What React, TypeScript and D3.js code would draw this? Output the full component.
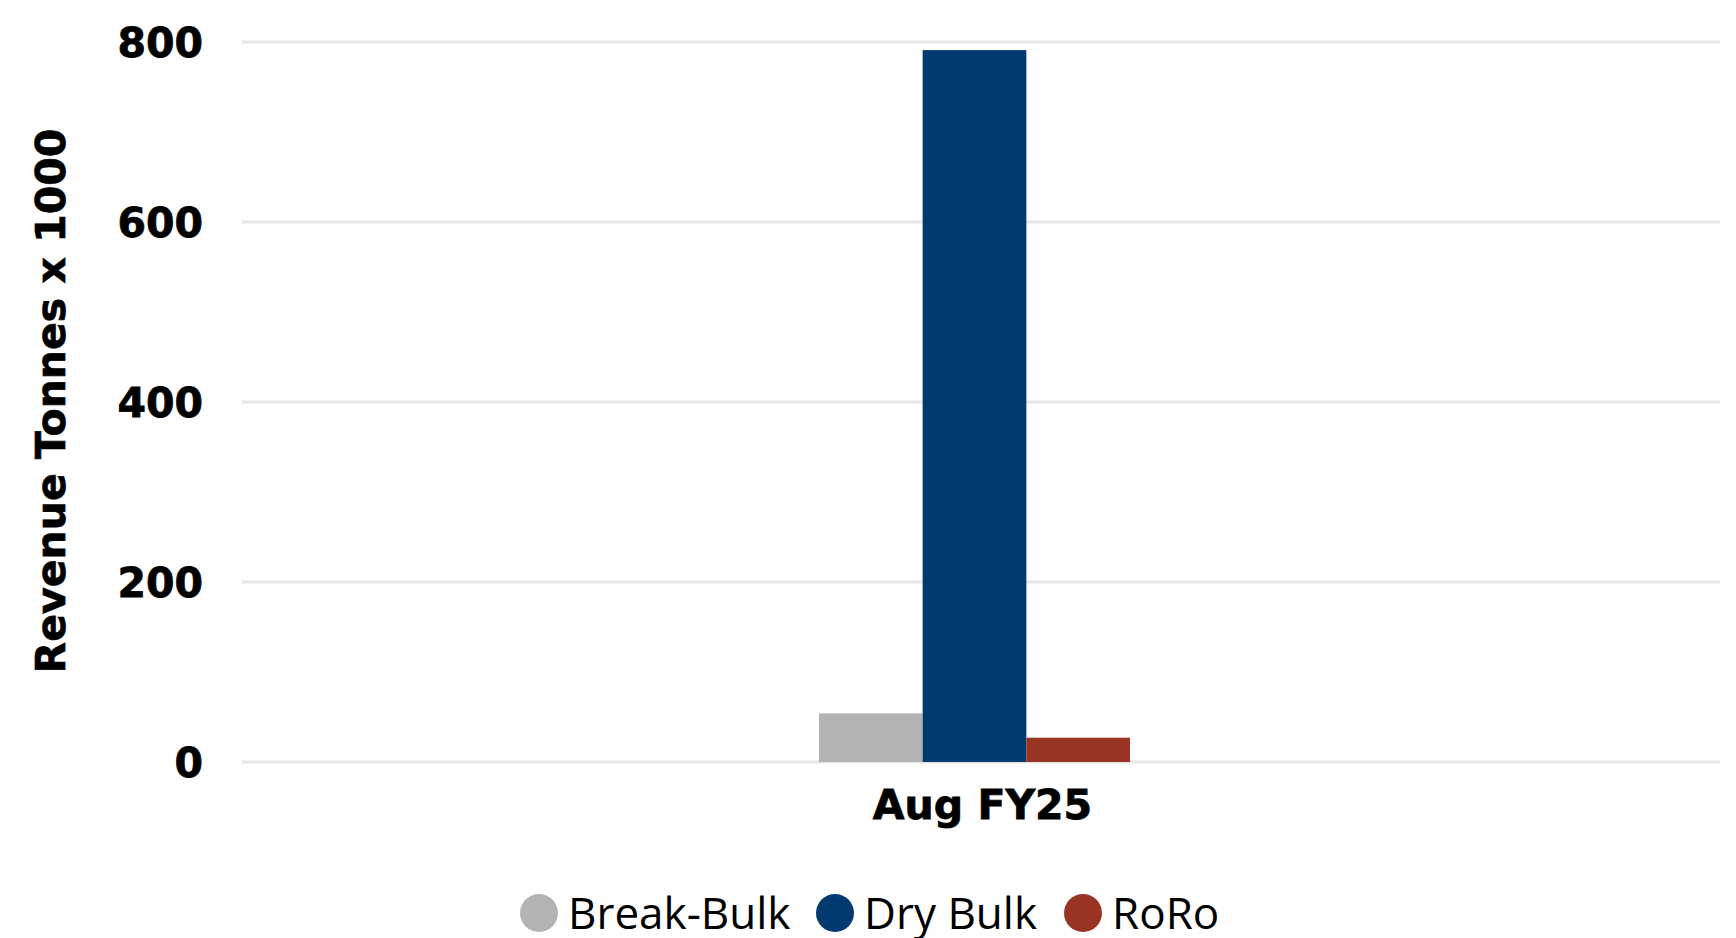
import React from 'react';
import * as d3 from 'd3';

const categories = ['Aug FY25'];
const seriesNames = ['Break-Bulk', 'Dry Bulk', 'RoRo'];
const breakBulk = [54];
const dryBulk = [791];
const roro = [27];
const yTickValues = [0, 200, 400, 600, 800];
const colors = ['#b3b3b3', '#003a70', '#993424'];

const width = 1736;
const height = 938;
const margin = { t: 42, b: 176, l: 242, r: 16 };

export default function App() {
    const seriesValues = [breakBulk, dryBulk, roro];

    const y = d3.scaleLinear()
        .domain([0, 800])
        .range([height - margin.b, margin.t]);

    // outer band for the category, inner band for each series
    const x0 = d3.scaleBand()
        .domain(categories)
        .range([229, width - margin.r])
        .paddingInner(0)
        .paddingOuter(1.897);

    const x1 = d3.scaleBand()
        .domain(seriesNames)
        .range([0, x0.bandwidth()]);

    const labelFont = '"DejaVu Sans", sans-serif';

    const yTicks = yTickValues.map(d => (
        <g key={d} transform={`translate(0,${y(d)})`}>
            <line x1={margin.l} x2={width - margin.r} y1="0" y2="0" stroke="#e6e6e6" strokeWidth="3"/>
            <text x="203" y="0" dy="0.36em" textAnchor="end" fontFamily={labelFont}
                  fontWeight="bold" fontSize="41" stroke="#000" strokeWidth="0.8">{d}</text>
        </g>
    ));

    const bars = categories.map((c, i) => (
        <g key={c} transform={`translate(${x0(c)},0)`}>
            {seriesNames.map((s, j) => (
                <rect key={s} x={x1(s)} width={x1.bandwidth()}
                      y={y(seriesValues[j][i])}
                      height={y(0) - y(seriesValues[j][i])}
                      fill={colors[j]}/>
            ))}
            <text x={x0.bandwidth() / 2 + 8} y="819" textAnchor="middle" fontFamily={labelFont}
                  fontWeight="bold" fontSize="41" stroke="#000" strokeWidth="0.8">{c}</text>
        </g>
    ));

    // legend positions, laid out left to right
    const legendX = [520, 816, 1064];

    return (
        <div style={{ position: 'fixed', left: 0, top: 0 }}>
            <svg width={width} height={height} style={{ display: 'block', background: '#fff' }}>
                <g>{yTicks}</g>
                <g>{bars}</g>
                <text transform={`translate(65,401) rotate(-90)`} textAnchor="middle"
                      fontFamily={labelFont} fontWeight="bold" fontSize="41"
                      stroke="#000" strokeWidth="0.7">Revenue Tonnes x 1000</text>
                <g>
                    {seriesNames.map((s, j) => (
                        <g key={s} transform={`translate(${legendX[j]},913)`}>
                            <circle cx="19" cy="0" r="19" fill={colors[j]}/>
                            <text x="48" y="0" dy="0.36em" fontFamily='"Open Sans", sans-serif'
                                  fontSize="44">{s}</text>
                        </g>
                    ))}
                </g>
            </svg>
        </div>
    );
}
